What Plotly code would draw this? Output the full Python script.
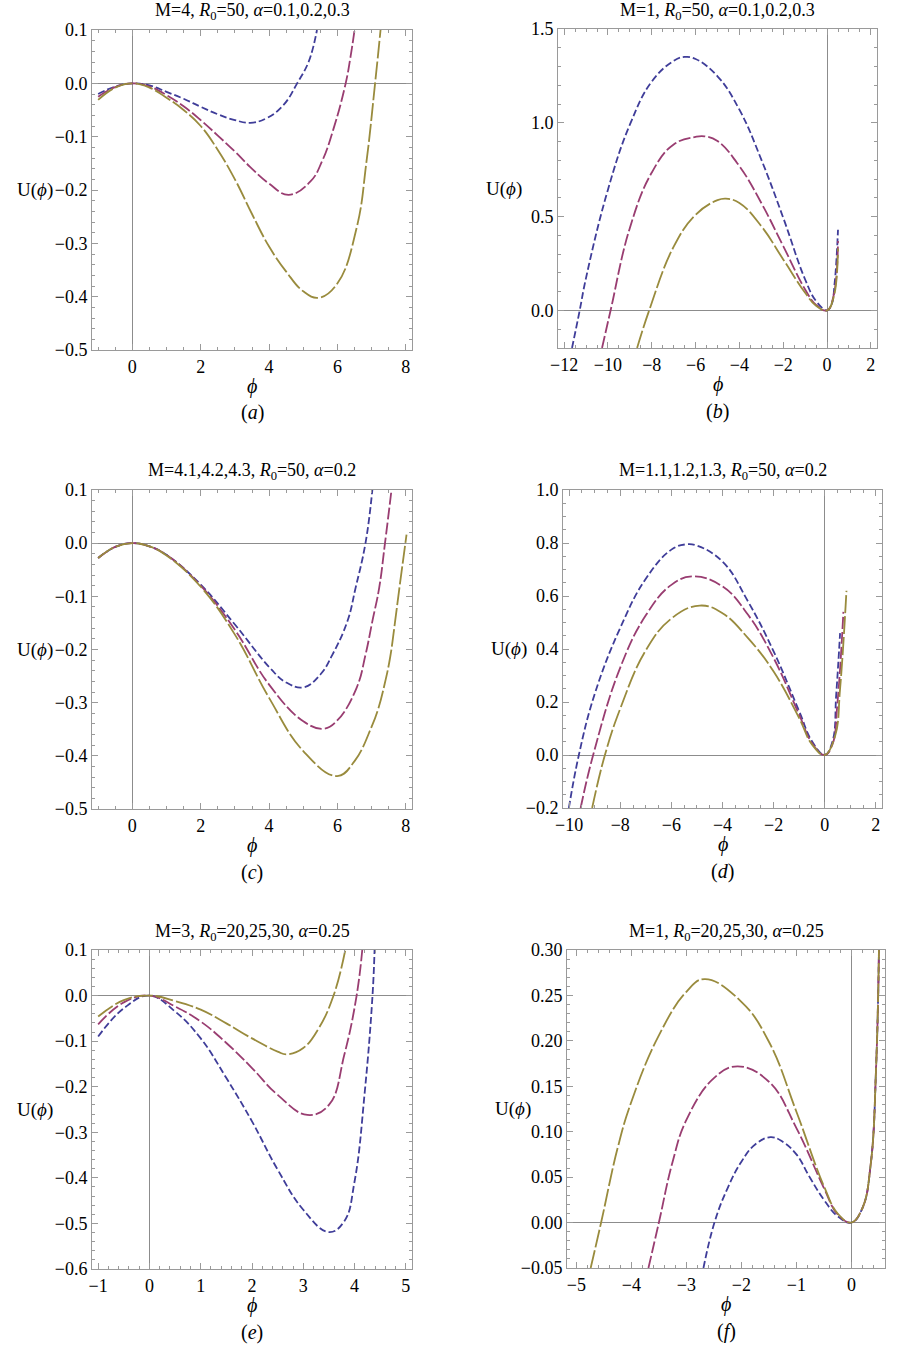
import plotly.graph_objects as go

# ---- panel (a): M=4, R0=50, alpha=0.1,0.2,0.3 ----
a_phi_1 = [-1.0, -0.5, 0.0, 0.5, 1.0, 1.5, 2.0, 2.5, 3.0, 3.45, 3.94, 4.43, 4.82, 5.16, 5.4]
a_u_1 = [-0.020, -0.006, 0.0, -0.004, -0.016, -0.029, -0.044, -0.058, -0.069, -0.074, -0.065, -0.040, 0.0, 0.041, 0.100]
a_phi_2 = [-1.0, -0.5, 0.0, 0.5, 1.0, 1.5, 2.0, 2.5, 3.0, 3.45, 4.0, 4.57, 5.21, 5.55, 5.89, 6.24, 6.38, 6.5]
a_u_2 = [-0.025, -0.007, 0.0, -0.006, -0.022, -0.043, -0.069, -0.098, -0.128, -0.157, -0.188, -0.209, -0.184, -0.146, -0.084, 0.0, 0.049, 0.100]
a_phi_3 = [-1.0, -0.5, 0.0, 0.5, 1.0, 1.5, 2.0, 2.5, 3.0, 3.5, 4.0, 4.5, 5.0, 5.45, 6.0, 6.56, 6.85, 7.1, 7.26]
a_u_3 = [-0.031, -0.008, 0.0, -0.008, -0.027, -0.050, -0.080, -0.125, -0.180, -0.245, -0.306, -0.353, -0.390, -0.402, -0.375, -0.271, -0.146, 0.0, 0.100]

# ---- panel (b): M=1, R0=50, alpha=0.1,0.2,0.3 ----
b_phi_1 = [-11.64, -11.29, -11.0, -10.0, -9.0, -8.0, -7.0, -6.5, -6.0, -5.0, -4.0, -3.0, -2.0, -1.0, -0.5, 0.0, 0.2, 0.35, 0.5]
b_u_1 = [-0.2, 0.0, 0.174, 0.644, 0.990, 1.220, 1.330, 1.351, 1.340, 1.248, 1.070, 0.804, 0.494, 0.165, 0.050, 0.0, 0.030, 0.150, 0.430]
b_phi_2 = [-10.27, -9.88, -9.0, -8.0, -7.0, -6.0, -5.6, -5.0, -4.0, -3.0, -2.0, -1.0, -0.5, 0.0, 0.3, 0.5]
b_u_2 = [-0.2, 0.0, 0.440, 0.735, 0.885, 0.925, 0.928, 0.903, 0.769, 0.573, 0.343, 0.112, 0.030, 0.0, 0.080, 0.370]
b_phi_3 = [-8.67, -8.12, -7.0, -6.0, -5.0, -4.62, -4.0, -3.0, -2.0, -1.0, -0.5, 0.0, 0.3, 0.5]
b_u_3 = [-0.2, 0.0, 0.340, 0.510, 0.588, 0.596, 0.573, 0.449, 0.272, 0.094, 0.025, 0.0, 0.070, 0.330]

# ---- panel (c): M=4.1,4.2,4.3, R0=50, alpha=0.2 ----
c_phi_1 = [-1.0, -0.5, 0.0, 0.5, 1.0, 2.0, 3.0, 4.03, 4.5, 5.01, 5.5, 5.85, 6.29, 6.53, 6.82, 7.02]
c_u_1 = [-0.028, -0.007, 0.0, -0.006, -0.022, -0.078, -0.153, -0.235, -0.262, -0.271, -0.247, -0.210, -0.147, -0.084, 0.0, 0.100]
c_phi_2 = [-1.0, -0.5, 0.0, 0.5, 1.0, 2.0, 3.0, 4.0, 5.0, 5.6, 6.0, 6.56, 6.82, 7.02, 7.22, 7.39, 7.58]
c_u_2 = [-0.028, -0.007, 0.0, -0.006, -0.022, -0.080, -0.163, -0.266, -0.335, -0.349, -0.333, -0.272, -0.210, -0.147, -0.084, 0.0, 0.100]
c_phi_3 = [-1.0, -0.5, 0.0, 0.5, 1.0, 2.0, 3.0, 4.0, 5.0, 5.99, 6.5, 7.0, 7.2, 7.38, 7.54, 7.68, 7.8, 8.02]
c_u_3 = [-0.028, -0.007, 0.0, -0.006, -0.023, -0.082, -0.172, -0.291, -0.391, -0.438, -0.410, -0.345, -0.310, -0.265, -0.215, -0.150, -0.090, 0.016]

# ---- panel (d): M=1.1,1.2,1.3, R0=50, alpha=0.2 ----
d_phi_1 = [-10.01, -9.62, -9.0, -8.0, -7.0, -6.0, -5.42, -5.0, -4.0, -3.0, -2.0, -1.0, -0.5, 0.0, 0.3, 0.45, 0.6]
d_u_1 = [-0.2, 0.0, 0.230, 0.480, 0.665, 0.775, 0.795, 0.790, 0.730, 0.579, 0.391, 0.165, 0.052, 0.0, 0.050, 0.230, 0.460]
d_phi_2 = [-9.55, -9.06, -8.0, -7.0, -6.0, -5.15, -4.0, -3.0, -2.0, -1.0, -0.5, 0.0, 0.3, 0.5, 0.73]
d_u_2 = [-0.2, 0.0, 0.330, 0.527, 0.642, 0.674, 0.636, 0.529, 0.366, 0.152, 0.045, 0.0, 0.040, 0.200, 0.540]
d_phi_3 = [-9.1, -8.6, -8.0, -7.0, -6.0, -4.89, -4.0, -3.0, -2.0, -1.0, -0.5, 0.0, 0.4, 0.6, 0.85]
d_u_3 = [-0.2, 0.0, 0.175, 0.395, 0.515, 0.564, 0.535, 0.441, 0.315, 0.139, 0.040, 0.0, 0.070, 0.250, 0.620]

# ---- panel (e): M=3, R0=20,25,30, alpha=0.25 ----
e_phi_1 = [-1.0, -0.5, 0.0, 0.5, 1.0, 1.5, 2.0, 2.5, 3.0, 3.5, 3.8, 4.0, 4.2, 4.35, 4.39]
e_u_1 = [-0.090, -0.028, 0.0, -0.035, -0.094, -0.181, -0.276, -0.382, -0.470, -0.519, -0.495, -0.408, -0.210, 0.0, 0.100]
e_phi_2 = [-1.0, -0.5, 0.0, 0.5, 1.0, 1.5, 2.0, 2.5, 3.08, 3.5, 3.8, 4.04, 4.15]
e_u_2 = [-0.063, -0.015, 0.0, -0.024, -0.057, -0.104, -0.159, -0.218, -0.262, -0.240, -0.130, 0.0, 0.100]
e_phi_3 = [-1.0, -0.5, 0.0, 0.5, 1.0, 1.5, 2.0, 2.5, 2.68, 3.0, 3.3, 3.59, 3.82]
e_u_3 = [-0.046, -0.010, 0.0, -0.012, -0.031, -0.061, -0.094, -0.123, -0.129, -0.115, -0.072, 0.0, 0.100]

# ---- panel (f): M=1, R0=20,25,30, alpha=0.25 ----
f_phi_1 = [-2.69, -2.49, -2.25, -2.0, -1.75, -1.47, -1.25, -1.0, -0.75, -0.5, -0.25, 0.0, 0.2, 0.35, 0.45, 0.5]
f_u_1 = [-0.05, 0.0, 0.038, 0.067, 0.086, 0.094, 0.089, 0.075, 0.049, 0.025, 0.007, 0.0, 0.016, 0.064, 0.174, 0.300]
f_phi_2 = [-3.69, -3.5, -3.25, -3.0, -2.5, -2.07, -1.5, -1.0, -0.5, -0.25, 0.0, 0.2, 0.35, 0.45, 0.5]
f_u_2 = [-0.05, 0.0, 0.067, 0.113, 0.159, 0.172, 0.155, 0.104, 0.038, 0.009, 0.0, 0.016, 0.064, 0.174, 0.300]
f_phi_3 = [-4.74, -4.55, -4.25, -4.0, -3.5, -3.0, -2.67, -2.0, -1.5, -1.0, -0.5, -0.25, 0.0, 0.2, 0.35, 0.45, 0.5]
f_u_3 = [-0.05, 0.0, 0.082, 0.133, 0.206, 0.254, 0.268, 0.243, 0.199, 0.122, 0.040, 0.010, 0.0, 0.016, 0.064, 0.174, 0.300]

titles = [
    "M=4, <i>R</i><sub>0</sub>=50, <i>α</i>=0.1,0.2,0.3",
    "M=1, <i>R</i><sub>0</sub>=50, <i>α</i>=0.1,0.2,0.3",
    "M=4.1,4.2,4.3, <i>R</i><sub>0</sub>=50, <i>α</i>=0.2",
    "M=1.1,1.2,1.3, <i>R</i><sub>0</sub>=50, <i>α</i>=0.2",
    "M=3, <i>R</i><sub>0</sub>=20,25,30, <i>α</i>=0.25",
    "M=1, <i>R</i><sub>0</sub>=20,25,30, <i>α</i>=0.25",
]
panel_tags = ["a", "b", "c", "d", "e", "f"]

W, H = 899, 1347
FONT = "Liberation Serif, Times New Roman, serif"
COLORS = ["#3F3D99", "#993D71", "#998B3D"]
DASHES = ["7px,3px", "12px,3px", "18px,3px"]
FRAME = "#9a9a9a"

# frame boxes in pixels (left, right, top, bottom)
boxes = [
    (92, 412, 30, 350), (558, 877, 29, 348),
    (92, 412, 490, 809), (563, 882, 490, 808),
    (92, 412, 950, 1269), (567, 885, 950, 1268),
]
xranges = [[-1.18, 8.18], [-12.28, 2.28], [-1.18, 8.18], [-10.24, 2.24], [-1.12, 5.12], [-5.17, 0.61]]
yranges = [[-0.5, 0.1], [-0.2, 1.5], [-0.5, 0.1], [-0.2, 1.0], [-0.6, 0.1], [-0.05, 0.30]]
xticks = [(2, 0.5), (2, 0.5), (2, 0.5), (2, 0.5), (1, 0.2), (1, 0.2)]
yticks = [(0.1, 0.02, ".1f"), (0.5, 0.1, ".1f"), (0.1, 0.02, ".1f"),
          (0.2, 0.05, ".1f"), (0.1, 0.02, ".1f"), (0.05, 0.01, ".2f")]

curves = [
    [(a_phi_1, a_u_1), (a_phi_2, a_u_2), (a_phi_3, a_u_3)],
    [(b_phi_1, b_u_1), (b_phi_2, b_u_2), (b_phi_3, b_u_3)],
    [(c_phi_1, c_u_1), (c_phi_2, c_u_2), (c_phi_3, c_u_3)],
    [(d_phi_1, d_u_1), (d_phi_2, d_u_2), (d_phi_3, d_u_3)],
    [(e_phi_1, e_u_1), (e_phi_2, e_u_2), (e_phi_3, e_u_3)],
    [(f_phi_1, f_u_1), (f_phi_2, f_u_2), (f_phi_3, f_u_3)],
]

fig = go.Figure()
layout = {}
annotations = []


def add_text(text, px, py, size):
    annotations.append(dict(text=text, x=px / W, y=1 - py / H, xref="paper", yref="paper",
                            xanchor="center", yanchor="middle", showarrow=False,
                            font=dict(family=FONT, size=size, color="black")))


for i, (box, xr, yr) in enumerate(zip(boxes, xranges, yranges)):
    n = "" if i == 0 else str(i + 1)
    left, right, top, bottom = box

    for (phi, u), color, dash in zip(curves[i], COLORS, DASHES):
        fig.add_trace(
            go.Scatter(
                x=phi,
                y=u,
                mode="lines",
                line=dict(color=color, width=1.8, dash=dash, shape="spline", smoothing=1.2),
                xaxis="x" + n,
                yaxis="y" + n,
                showlegend=False,
                hoverinfo="skip",
            )
        )

    axis_common = dict(
        showline=True,
        linecolor=FRAME,
        linewidth=1,
        mirror="ticks",
        ticks="inside",
        ticklen=6,
        tickcolor=FRAME,
        showgrid=False,
        zeroline=True,
        zerolinecolor="#8c8c8c",
        zerolinewidth=1,
        automargin=False,
        tickfont=dict(family=FONT, size=18, color="black"),
    )
    xdt, xmin = xticks[i]
    ydt, ymin, yfmt = yticks[i]
    layout["xaxis" + n] = dict(
        axis_common,
        domain=[left / W, right / W],
        range=xr,
        anchor="y" + n,
        dtick=xdt,
        tick0=0,
        tickformat="d",
        minor=dict(ticks="inside", ticklen=3, tickcolor=FRAME, dtick=xmin, tick0=0),
    )
    layout["yaxis" + n] = dict(
        axis_common,
        domain=[1 - bottom / H, 1 - top / H],
        range=yr,
        anchor="x" + n,
        dtick=ydt,
        tick0=0,
        tickformat=yfmt,
        minor=dict(ticks="inside", ticklen=3, tickcolor=FRAME, dtick=ymin, tick0=0),
    )

    cx = (left + right) / 2
    add_text(titles[i], cx, top - 18, 18)
    add_text("<i>ϕ</i>", cx, bottom + 36, 20)
    add_text("(<i>" + panel_tags[i] + "</i>)", cx, bottom + 63, 20)
    ylab_x = 35 if i % 2 == 0 else (left - 54)
    add_text("U(<i>ϕ</i>)", ylab_x, (top + bottom) / 2, 19)

fig.update_layout(
    **layout,
    annotations=annotations,
    width=W,
    height=H,
    margin=dict(l=0, r=0, t=0, b=0),
    paper_bgcolor="white",
    plot_bgcolor="white",
)

# drop the default 8px page margin so the figure sits at the window origin
fig.write_html(
    "out.html",
    config={"displayModeBar": False},
    post_script="document.body.style.margin = '0';",
)
